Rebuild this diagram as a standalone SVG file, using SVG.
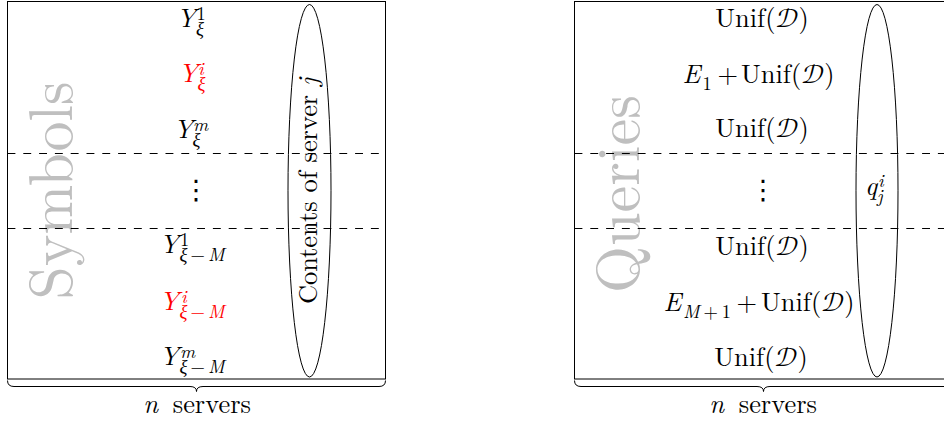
<svg xmlns="http://www.w3.org/2000/svg" width="944" height="428" viewBox="0 0 944 428">
<style>
.f{font-family:'Latin Modern Roman','CMU Serif','Liberation Serif','Times New Roman',Times,serif}
.t{font-size:26.4px;fill:#000}
.s{font-size:18.5px}
.it{font-style:italic}
.cal{font-family:'Latin Modern Math','STIX Two Math','Cambria Math',serif;font-style:normal}
.red{fill:#ff0000}
.big{font-size:61px;fill:#bfbfbf}
.dots{font-family:'DejaVu Sans',sans-serif;font-size:27px;fill:#000}
.box{fill:none;stroke:#000;stroke-width:1}
.dash{fill:none;stroke:#000;stroke-width:1;stroke-dasharray:7.9 7.9}
.ell{fill:none;stroke:#000;stroke-width:1}
.brace{fill:none;stroke:#000;stroke-width:1}
</style>
<rect width="944" height="428" fill="#fff"/>

<g id="symbols-panel">
  <rect class="box" x="7.5" y="1.5" width="378" height="377.5"/>
  <text class="big f" transform="translate(72,190.5) rotate(-90)" text-anchor="middle" textLength="218" lengthAdjust="spacingAndGlyphs">Symbols</text>
</g>

<g id="queries-panel">
  <rect class="box" x="574.5" y="1.5" width="378" height="377.5"/>
  <text class="big f" transform="translate(639,194) rotate(-90)" text-anchor="middle" textLength="198" lengthAdjust="spacingAndGlyphs">Queries</text>
</g>

<g id="connectors">
  <path class="dash" d="M7.5,153.5H385.5M7.5,228.5H385.5"/>
  <path class="dash" d="M574.5,153.5H944M574.5,228.5H944"/>
  <path class="brace" d="M7.5,380.5Q7.5,386.5 14,386.5L190,386.5Q196.5,386.5 196.5,391.5Q196.5,386.5 203,386.5L379,386.5Q385.5,386.5 385.5,380.5"/>
  <path class="brace" d="M574.5,380.5Q574.5,386.5 581,386.5L757,386.5Q763.5,386.5 763.5,391.5Q763.5,386.5 770,386.5L946,386.5Q952.5,386.5 952.5,380.5"/>
</g>

<g id="left-col" class="f">
<g id="sym-y1">
  <text class="t it" x="176.5" y="27">Y</text>
  <text class="t s" x="196.5" y="20">1</text>
  <text class="t s it" x="196" y="34.5">ξ</text>
</g>
<g id="sym-yi">
  <text class="t it red" x="178.5" y="82">Y</text>
  <text class="t s it red" x="198" y="75">i</text>
  <text class="t s it red" x="197.5" y="89.5">ξ</text>
</g>
<g id="sym-ym">
  <text class="t it" x="173.5" y="138">Y</text>
  <text class="t s it" x="193" y="131">m</text>
  <text class="t s it" x="192.5" y="145.5">ξ</text>
</g>
<g id="sym-dots">
  <text class="dots" x="196" y="199" text-anchor="middle">⋮</text>
</g>
<g id="sym-y1M">
  <text class="t it" x="159.5" y="253">Y</text>
  <text class="t s" x="180" y="246">1</text>
  <text class="t s" x="179.5" y="261" textLength="45"><tspan class="it">ξ</tspan>−<tspan class="it">M</tspan></text>
</g>
<g id="sym-yiM">
  <text class="t it red" x="159.5" y="310">Y</text>
  <text class="t s it red" x="181" y="303">i</text>
  <text class="t s red" x="179.5" y="318" textLength="45"><tspan class="it">ξ</tspan>−<tspan class="it">M</tspan></text>
</g>
<g id="sym-ymM">
  <text class="t it" x="159.5" y="365">Y</text>
  <text class="t s it" x="180" y="358">m</text>
  <text class="t s" x="179.5" y="373" textLength="45"><tspan class="it">ξ</tspan>−<tspan class="it">M</tspan></text>
</g>
<g id="server-contents">
  <ellipse class="ell" cx="309.5" cy="190.75" rx="21.5" ry="186.25"/>
  <text class="t" transform="translate(317,191) rotate(-90)" text-anchor="middle">Contents of server <tspan class="it">j</tspan></text>
</g>
<g id="label-left">
  <text class="t" x="197" y="413" text-anchor="middle"><tspan class="it">n</tspan><tspan dx="6"> servers</tspan></text>
</g>
</g>

<g id="right-col" class="f">
<g id="q-row1">
  <text class="t" x="762" y="27" text-anchor="middle">Unif(<tspan class="cal">𝒟</tspan>)</text>
</g>
<g id="q-row2">
  <text class="t it" x="682.5" y="83">E</text>
  <text class="t s" x="702.5" y="90">1</text>
  <text class="t" x="717.5" y="83">+</text>
  <text class="t" x="741" y="83">Unif(<tspan class="cal">𝒟</tspan>)</text>
</g>
<g id="q-row3">
  <text class="t" x="762" y="137" text-anchor="middle">Unif(<tspan class="cal">𝒟</tspan>)</text>
</g>
<g id="q-dots">
  <text class="dots" x="763" y="199" text-anchor="middle">⋮</text>
</g>
<g id="q-row4">
  <text class="t" x="762" y="255" text-anchor="middle">Unif(<tspan class="cal">𝒟</tspan>)</text>
</g>
<g id="q-row5">
  <text class="t it" x="663.5" y="311">E</text>
  <text class="t s" x="683" y="318" textLength="48"><tspan class="it">M</tspan>+1</text>
  <text class="t" x="736.5" y="311">+</text>
  <text class="t" x="761" y="311">Unif(<tspan class="cal">𝒟</tspan>)</text>
</g>
<g id="q-row6">
  <text class="t" x="761" y="366" text-anchor="middle">Unif(<tspan class="cal">𝒟</tspan>)</text>
</g>
<g id="query-qij">
  <ellipse class="ell" cx="877" cy="190.75" rx="21" ry="186.25"/>
  <text class="t it" x="865" y="195">q</text>
  <text class="t s it" x="878" y="187">i</text>
  <text class="t s it" x="877" y="202">j</text>
</g>
<g id="label-right">
  <text class="t" x="763" y="413" text-anchor="middle"><tspan class="it">n</tspan><tspan dx="6"> servers</tspan></text>
</g>
</g>
</svg>
